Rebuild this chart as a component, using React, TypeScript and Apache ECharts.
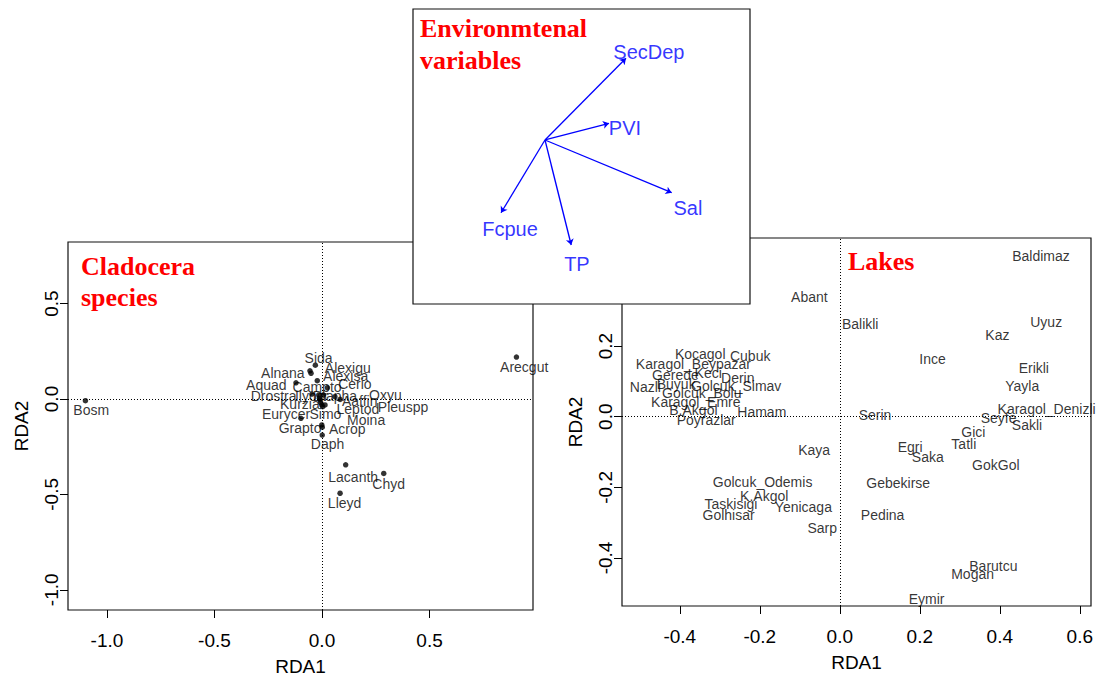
import React, { useEffect, useRef } from "react";
import * as echarts from "echarts";

// Cladocera species scores (points) and where their names are written
const speciesNames = [
  "Sida", "Alnana", "Alexigu", "Alexisa", "Aquad", "Campto", "Cerio",
  "Drostra", "Ilyocr", "Diapha", "Oxyu", "Aaffin", "Leptod", "Kurzia",
  "Pleuspp", "Moina", "Simo", "Eurycer", "Grapto", "Acrop", "Daph",
  "Lacanth", "Chyd", "Lleyd", "Bosm", "Arecgut",
];
const speciesRDA1 = [
  -0.031, -0.056, -0.051, -0.022, -0.121, 0.025, 0.06,
  -0.047, -0.015, 0.006, 0.084, -0.009, -0.006, -0.001,
  0.014, -0.012, 0.003, -0.098, -0.001, 0.001, 0.001,
  0.11, 0.287, 0.084, -1.1, 0.904,
];
const speciesRDA2 = [
  0.177, 0.148, 0.135, 0.096, 0.085, 0.059, 0.012,
  0.026, 0.021, 0.021, -0.002, -0.005, -0.019, -0.031,
  -0.031, 0.004, -0.04, -0.101, -0.136, -0.148, -0.189,
  -0.345, -0.39, -0.494, -0.009, 0.22,
];
const speciesLabelRDA1 = [
  -0.016, -0.182, 0.12, 0.11, -0.259, -0.023, 0.153,
  -0.225, -0.048, 0.06, 0.295, 0.175, 0.167, -0.103,
  0.377, 0.205, 0.016, -0.167, -0.102, 0.117, 0.026,
  0.145, 0.31, 0.105, -1.073, 0.94,
];
const speciesLabelRDA2 = [
  0.216, 0.138, 0.164, 0.122, 0.072, 0.063, 0.081,
  0.014, 0.016, 0.014, 0.022, -0.008, -0.052, -0.027,
  -0.042, -0.108, -0.078, -0.078, -0.152, -0.155, -0.238,
  -0.408, -0.444, -0.546, -0.059, 0.168,
];

// Lake site scores
const lakeNames = [
  "Baldimaz", "Abant", "Balikli", "Uyuz", "Kaz", "Ince", "Erikli", "Yayla",
  "Karagol_Denizli", "Seyfe", "Sakli", "Gici", "Tatli", "Serin", "Egri",
  "Saka", "GokGol", "Gebekirse", "Pedina", "Barutcu", "Mogan", "Eymir",
  "Kaya", "Golcuk_Odemis", "K.Akgol", "Taskisigi", "Yenicaga", "Golhisar",
  "Sarp", "Kocagol", "Cubuk", "Karagol_Beypazar", "Gerede", "Keci", "Derin",
  "Nazli", "Buyuk", "Golcuk_Simav", "Golcuk_Bolu", "Karagol_Emre", "B.Akgol",
  "Hamam", "Poyrazlar",
];
const lakeRDA1 = [
  0.503, -0.076, 0.051, 0.516, 0.394, 0.232, 0.485, 0.456,
  0.517, 0.397, 0.468, 0.334, 0.31, 0.088, 0.176,
  0.22, 0.39, 0.146, 0.107, 0.384, 0.332, 0.217,
  -0.064, -0.193, -0.189, -0.272, -0.091, -0.278,
  -0.044, -0.349, -0.224, -0.366, -0.411, -0.329, -0.255,
  -0.486, -0.409, -0.259, -0.345, -0.36, -0.366,
  -0.195, -0.334,
];
const lakeRDA2 = [
  0.455, 0.338, 0.263, 0.267, 0.23, 0.162, 0.138, 0.086,
  0.021, -0.005, -0.024, -0.044, -0.077, 0.005, -0.085,
  -0.113, -0.138, -0.189, -0.279, -0.424, -0.446, -0.515,
  -0.095, -0.186, -0.225, -0.248, -0.257, -0.279,
  -0.316, 0.177, 0.172, 0.149, 0.119, 0.123, 0.111,
  0.084, 0.092, 0.087, 0.066, 0.041, 0.018,
  0.012, -0.01,
];

// Environmental variable biplot arrows and their name positions
const envNames = ["SecDep", "PVI", "Sal", "TP", "Fcpue"];
const envRDA1 = [0.54, 0.427, 0.845, 0.175, -0.293];
const envRDA2 = [0.545, 0.111, -0.351, -0.7, -0.485];
const envLabelRDA1 = [0.693, 0.533, 0.953, 0.213, -0.233];
const envLabelRDA2 = [0.587, 0.08, -0.453, -0.827, -0.593];

// Axis ticks
const speciesTicksX = [-1.0, -0.5, 0.0, 0.5];
const speciesTicksY = [-1.0, -0.5, 0.0, 0.5];
const lakeTicksX = [-0.4, -0.2, 0.0, 0.2, 0.4, 0.6];
const lakeTicksY = [-0.4, -0.2, 0.0, 0.2, 0.4];

const SANS = "'Liberation Sans', Arial, Helvetica, sans-serif";
const SERIF = "'Liberation Serif', 'Times New Roman', serif";
const fmt = (v: number) => (Math.abs(v) < 1e-9 ? "0.0" : v.toFixed(1));

function xAxisFor(gridIndex: number, min: number, max: number, ticks: number[]) {
  return {
    type: "value",
    gridIndex,
    min,
    max,
    axisLine: { show: false, onZero: false },
    axisTick: {
      show: true,
      inside: false,
      length: 8,
      customValues: ticks,
      lineStyle: { color: "#000", width: 1 },
    },
    axisLabel: {
      show: true,
      customValues: ticks,
      formatter: fmt,
      fontSize: 19,
      color: "#000",
      fontFamily: SANS,
      margin: 21,
    },
    splitLine: { show: false },
    name: "RDA1",
    nameLocation: "middle",
    nameGap: 47,
    nameTextStyle: { fontSize: 19, color: "#000", fontFamily: SANS },
  };
}

function yAxisFor(gridIndex: number, min: number, max: number, ticks: number[]) {
  return {
    type: "value",
    gridIndex,
    min,
    max,
    axisLine: { show: false, onZero: false },
    axisTick: {
      show: true,
      inside: false,
      length: 8,
      customValues: ticks,
      lineStyle: { color: "#000", width: 1 },
    },
    axisLabel: {
      show: true,
      customValues: ticks,
      formatter: fmt,
      rotate: 90,
      fontSize: 19,
      color: "#000",
      fontFamily: SANS,
      margin: 7,
    },
    splitLine: { show: false },
    name: "RDA2",
    nameLocation: "middle",
    nameGap: 37,
    nameTextStyle: { fontSize: 19, color: "#000", fontFamily: SANS },
  };
}

const zeroLines = {
  silent: true,
  symbol: ["none", "none"],
  label: { show: false },
  lineStyle: { type: [1, 2], color: "#000", width: 1 },
  emphasis: { disabled: true },
  data: [{ xAxis: 0 }, { yAxis: 0 }],
};

function nameLabels(fontSize: number, color: string) {
  return {
    show: true,
    position: "inside",
    formatter: "{b}",
    fontSize,
    color,
    fontFamily: SANS,
    align: "center",
    verticalAlign: "middle",
  };
}

export default function App() {
  const ref = useRef<HTMLDivElement>(null);

  useEffect(() => {
    if (!ref.current) return;
    const chart = echarts.init(ref.current, undefined, { renderer: "svg" });

    const option = {
      animation: false,
      backgroundColor: "#fff",
      grid: [
        { left: 68, top: 242, width: 465, height: 368, show: true, borderColor: "#111", borderWidth: 1.2 },
        { left: 622, top: 238, width: 469, height: 368, show: true, borderColor: "#111", borderWidth: 1.2 },
        { left: 413, top: 9, width: 337, height: 295, show: false },
      ],
      xAxis: [
        xAxisFor(0, -1.181, 0.981, speciesTicksX),
        xAxisFor(1, -0.5445, 0.628, lakeTicksX),
        { type: "value", gridIndex: 2, min: -0.88, max: 1.367, show: false },
      ],
      yAxis: [
        yAxisFor(0, -1.106, 0.823, speciesTicksY),
        yAxisFor(1, -0.536, 0.506, lakeTicksY),
        { type: "value", gridIndex: 2, min: -1.093, max: 0.873, show: false },
      ],
      graphic: [
        {
          type: "rect",
          z: 10,
          shape: { x: 413, y: 9, width: 337, height: 295 },
          style: { fill: "#fff", stroke: "#111", lineWidth: 1.2 },
        },
        {
          type: "text",
          z: 30,
          x: 81,
          y: 266,
          style: { text: "Cladocera", fill: "#ff0000", font: `bold 26px ${SERIF}`, textVerticalAlign: "middle" },
        },
        {
          type: "text",
          z: 30,
          x: 81,
          y: 297,
          style: { text: "species", fill: "#ff0000", font: `bold 26px ${SERIF}`, textVerticalAlign: "middle" },
        },
        {
          type: "text",
          z: 30,
          x: 848,
          y: 261,
          style: { text: "Lakes", fill: "#ff0000", font: `bold 26px ${SERIF}`, textVerticalAlign: "middle" },
        },
        {
          type: "text",
          z: 30,
          x: 420,
          y: 28,
          style: { text: "Environmtenal", fill: "#ff0000", font: `bold 26px ${SERIF}`, textVerticalAlign: "middle" },
        },
        {
          type: "text",
          z: 30,
          x: 420,
          y: 60,
          style: { text: "variables", fill: "#ff0000", font: `bold 26px ${SERIF}`, textVerticalAlign: "middle" },
        },
      ],
      series: [
        {
          name: "species",
          type: "scatter",
          xAxisIndex: 0,
          yAxisIndex: 0,
          silent: true,
          symbol: "circle",
          symbolSize: 5.5,
          itemStyle: { color: "#000" },
          data: speciesRDA1.map((x, i) => [x, speciesRDA2[i]]),
          markLine: zeroLines,
        },
        {
          name: "species names",
          type: "scatter",
          xAxisIndex: 0,
          yAxisIndex: 0,
          silent: true,
          symbolSize: 1,
          itemStyle: { color: "transparent" },
          label: nameLabels(14, "#000"),
          data: speciesNames.map((n, i) => ({ name: n, value: [speciesLabelRDA1[i], speciesLabelRDA2[i]] })),
        },
        {
          name: "lakes",
          type: "scatter",
          xAxisIndex: 1,
          yAxisIndex: 1,
          silent: true,
          symbolSize: 1,
          itemStyle: { color: "transparent" },
          label: nameLabels(14, "#000"),
          data: lakeNames.map((n, i) => ({ name: n, value: [lakeRDA1[i], lakeRDA2[i]] })),
          markLine: zeroLines,
        },
        {
          name: "environment",
          type: "lines",
          coordinateSystem: "cartesian2d",
          xAxisIndex: 2,
          yAxisIndex: 2,
          z: 20,
          silent: true,
          symbol: ["none", "arrow"],
          symbolSize: [0, 6],
          lineStyle: { color: "#0000ff", width: 1.3, opacity: 1 },
          data: envNames.map((n, i) => ({ name: n, coords: [[0, 0], [envRDA1[i], envRDA2[i]]] })),
        },
        {
          name: "environment names",
          type: "scatter",
          xAxisIndex: 2,
          yAxisIndex: 2,
          z: 20,
          silent: true,
          symbolSize: 1,
          itemStyle: { color: "transparent" },
          label: nameLabels(20, "#0000ff"),
          data: envNames.map((n, i) => ({ name: n, value: [envLabelRDA1[i], envLabelRDA2[i]] })),
        },
      ],
    };

    chart.setOption(option as any);
    return () => chart.dispose();
  }, []);

  return (
    <div
      ref={ref}
      style={{ position: "fixed", left: 0, top: 0, width: 1098, height: 682, background: "#fff" }}
    />
  );
}
